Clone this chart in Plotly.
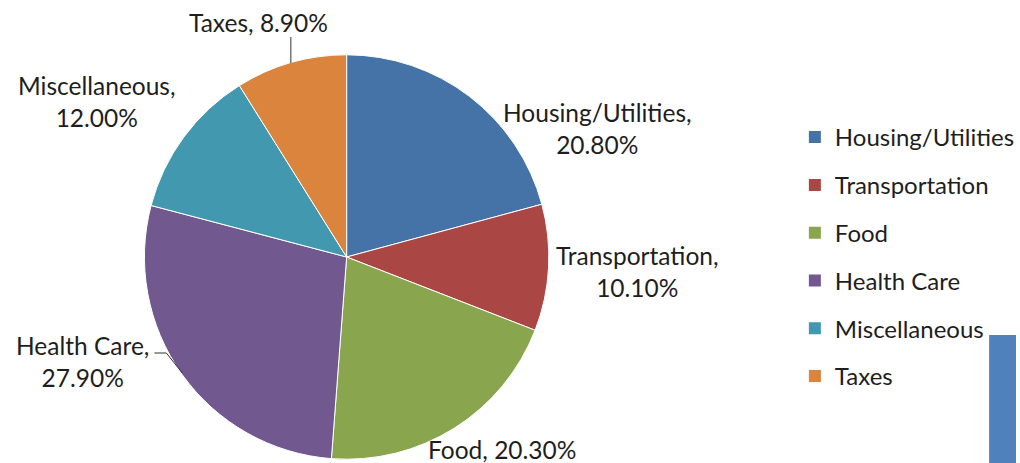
import plotly.graph_objects as go

categories = ["Housing/Utilities", "Transportation", "Food", "Health Care", "Miscellaneous", "Taxes"]
shares = [20.8, 10.1, 20.3, 27.9, 12.0, 8.9]
colors = ["#4572A7", "#AA4643", "#89A54E", "#71588F", "#4198AF", "#DB843D"]

W, H = 1020, 463
FONT = "Lato"
FS = 24.5
LFS = 24
TXT = "#1e1e1e"

# label anchor positions in pixels (centre of text block)
label_pos = [(600, 128), (640, 271), (504, 449), (83, 361), (97, 101), (260, 22)]
label_break = [True, True, False, True, True, False]

def px(x):
    return x / W

def py(y):
    return 1 - y / H

fig = go.Figure()
fig.add_trace(go.Pie(
    labels=categories, values=shares, sort=False, direction="clockwise", rotation=0,
    marker=dict(colors=colors, line=dict(color="white", width=1)),
    textinfo="none", hoverinfo="label+percent", showlegend=False,
    domain=dict(x=[px(145), px(551)], y=[py(460), py(54)]),
))

for i, (c, col) in enumerate(zip(categories, colors)):
    fig.add_trace(go.Scatter(
        x=[None], y=[None], mode="markers", name=c,
        marker=dict(symbol="square", size=12, color=col),
        legendgroup=c, showlegend=True,
    ))

annotations = []
for c, v, (lx, ly), br in zip(categories, shares, label_pos, label_break):
    sep = ",<br>" if br else ", "
    annotations.append(dict(
        x=px(lx), y=py(ly), xref="paper", yref="paper", showarrow=False,
        text=f"{c}{sep}{v:.2f}%", align="center",
        font=dict(family=FONT, size=FS, color=TXT),
        xanchor="center", yanchor="middle",
    ))

shapes = [
    dict(type="line", xref="paper", yref="paper", x0=px(292), y0=py(37), x1=px(292), y1=py(63),
         line=dict(color="#333", width=1)),
    dict(type="line", xref="paper", yref="paper", x0=px(155), y0=py(353), x1=px(167), y1=py(353),
         line=dict(color="#333", width=1)),
    dict(type="line", xref="paper", yref="paper", x0=px(167), y0=py(353), x1=px(183), y1=py(373),
         line=dict(color="#333", width=1)),
    dict(type="rect", xref="paper", yref="paper", x0=px(993), y0=py(463), x1=1, y1=py(335),
         fillcolor="#4F81BD", line=dict(width=0), layer="below"),
]

fig.update_layout(
    width=W, height=H,
    margin=dict(l=0, r=0, t=0, b=0),
    paper_bgcolor="white", plot_bgcolor="white",
    xaxis=dict(visible=False), yaxis=dict(visible=False),
    annotations=annotations, shapes=shapes,
    legend=dict(x=px(798), y=py(115), xanchor="left", yanchor="top",
                font=dict(family=FONT, size=LFS, color=TXT),
                tracegroupgap=13.6, bgcolor="rgba(0,0,0,0)"),
)

fig.write_html("out.html", config={"displayModeBar": False},
               post_script="document.body.style.margin='0';document.body.style.overflow='hidden';")
